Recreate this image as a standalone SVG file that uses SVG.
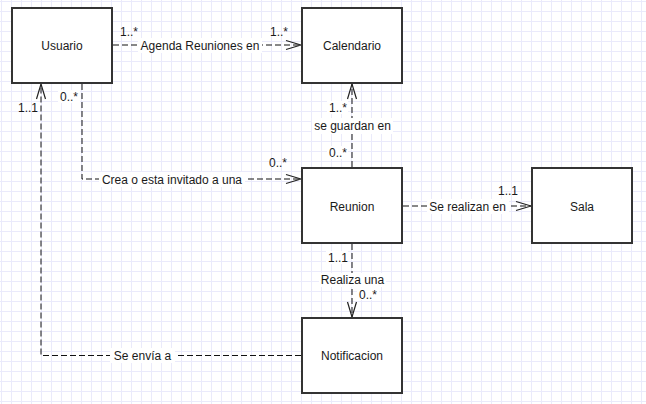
<svg xmlns="http://www.w3.org/2000/svg" width="646" height="404" viewBox="0 0 646 404">
<defs>
<pattern id="grid" width="10" height="10" patternUnits="userSpaceOnUse" x="1" y="1">
<path d="M0.5,0 V10 M0,0.5 H10" fill="none" stroke="#eaeafb" stroke-width="1"/>
</pattern>
<marker id="open" viewBox="-16 -6 17 12" markerWidth="17" markerHeight="12" refX="0" refY="0" orient="auto" markerUnits="userSpaceOnUse">
<path d="M-15,-4.5 L0,0 L-15,4.5" fill="none" stroke="#222" stroke-width="1.2" stroke-dasharray="none"/>
</marker>
<style>
.node rect{fill:#fff;stroke:#333;stroke-width:2}
.node text{font-family:"Liberation Sans",Arial,sans-serif;font-size:12px;fill:#1a1a1a;text-anchor:middle}
.edge{fill:none;stroke:#111;stroke-width:1;stroke-dasharray:6 3}
.lbl rect{fill:#fff}
.lbl text{font-family:"Liberation Sans",Arial,sans-serif;font-size:12px;fill:#1a1a1a}
.c{text-anchor:middle}
</style>
</defs>
<rect width="646" height="404" fill="#fff"/>
<rect width="646" height="404" fill="url(#grid)"/>

<g id="connectors">
<path class="edge" d="M113,45 L301,45" marker-end="url(#open)"/>
<path class="edge" d="M82,84 L82,179 L301,179" marker-end="url(#open)"/>
<path class="edge" d="M301,355.5 L41,355.5 L41,84" marker-end="url(#open)"/>
<path class="edge" d="M352,167 L352,84" marker-end="url(#open)"/>
<path class="edge" d="M403,206 L531,206" marker-end="url(#open)"/>
<path class="edge" d="M352,244 L352,317" marker-end="url(#open)"/>
</g>

<g id="labels" class="lbl">
<rect x="138" y="38" width="124" height="15"/>
<text x="200" y="49.5" class="c">Agenda Reuniones en</text>
<text x="120" y="36">1..*</text>
<text x="270" y="36">1..*</text>

<rect x="99" y="172" width="146" height="15"/>
<text x="172" y="183.5" class="c">Crea o esta invitado a una</text>
<rect x="58" y="90" width="22" height="13"/>
<text x="60" y="101">0..*</text>
<text x="269" y="167">0..*</text>

<rect x="110" y="348" width="65" height="15"/>
<text x="142.5" y="359.5" class="c">Se envía a</text>
<text x="18" y="112">1..1</text>

<rect x="327" y="101" width="21" height="13"/>
<text x="329" y="112">1..*</text>
<rect x="312" y="118" width="81" height="16"/>
<text x="352.5" y="130" class="c">se guardan en</text>
<rect x="327" y="146" width="21" height="13"/>
<text x="329" y="157">0..*</text>

<rect x="427" y="199" width="82" height="15"/>
<text x="467.5" y="210.5" class="c">Se realizan en</text>
<text x="498" y="195">1..1</text>

<rect x="326" y="251" width="22" height="13"/>
<text x="328" y="262">1..1</text>
<rect x="319" y="273" width="67" height="14"/>
<text x="352.5" y="284" class="c">Realiza una</text>
<rect x="357" y="287" width="22" height="13"/>
<text x="359" y="298.5">0..*</text>
</g>

<g id="usuario" class="node">
<rect x="12" y="8" width="100" height="75"/>
<text x="62" y="49.5">Usuario</text>
</g>
<g id="calendario" class="node">
<rect x="302" y="8" width="100" height="75"/>
<text x="352" y="49.5">Calendario</text>
</g>
<g id="reunion" class="node">
<rect x="302" y="168" width="100" height="75"/>
<text x="352" y="210.5">Reunion</text>
</g>
<g id="sala" class="node">
<rect x="532" y="168" width="100" height="75"/>
<text x="582" y="210.5">Sala</text>
</g>
<g id="notificacion" class="node">
<rect x="302" y="318" width="100" height="75"/>
<text x="352" y="359.5">Notificacion</text>
</g>
</svg>
